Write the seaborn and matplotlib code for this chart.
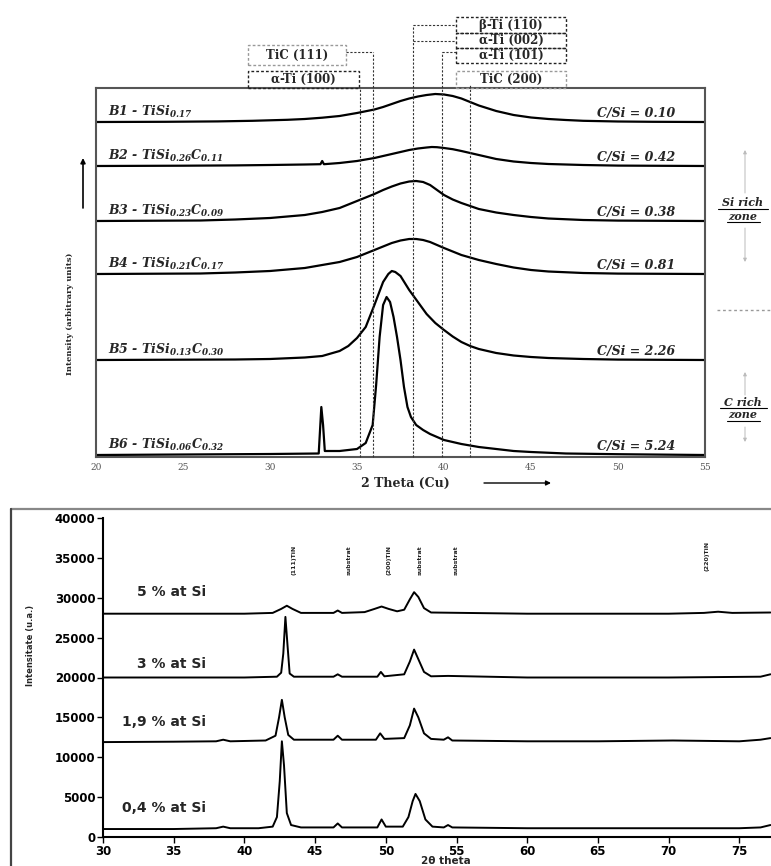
import numpy as np
import matplotlib
matplotlib.use('Agg')
import matplotlib.pyplot as plt
import seaborn as sns
from matplotlib.lines import Line2D
from matplotlib.patches import Rectangle

# ---------------- top panel: stacked XRD patterns (arbitrary units) ----------------
samples = ['B1', 'B2', 'B3', 'B4', 'B5', 'B6']
formulas = [r'TiSi$_{0.17}$', r'TiSi$_{0.26}$C$_{0.11}$', r'TiSi$_{0.23}$C$_{0.09}$',
            r'TiSi$_{0.21}$C$_{0.17}$', r'TiSi$_{0.13}$C$_{0.30}$', r'TiSi$_{0.06}$C$_{0.32}$']
c_si = ['0.10', '0.42', '0.38', '0.81', '2.26', '5.24']
top_offsets = [335, 291, 236, 183, 97, 2]

b1_theta = [20, 24, 27, 29, 31, 32, 33, 34, 35, 36, 36.5, 37, 37.5, 38, 38.5, 39, 39.5, 40, 40.5, 41, 41.5,
            42, 43, 44, 45, 46, 47, 48, 50, 52, 55]
b1_int = [0, 0.2, 0.6, 1.2, 2.2, 3, 4.3, 6, 9, 12.5, 15, 18, 21, 23.5, 25.5, 27, 28, 27.5, 26, 23.5, 20,
          16.5, 11, 7, 4.5, 3, 2, 1.2, 0.5, 0.2, 0]
b2_theta = [20, 25, 28, 30, 32, 32.9, 33.0, 33.1, 34, 35, 36, 36.5, 37, 37.5, 38, 38.5, 39, 39.3, 39.6, 40,
            40.5, 41, 41.5, 42, 43, 44, 45, 46, 48, 50, 55]
b2_int = [0, 0.3, 0.6, 1, 1.5, 1.8, 5, 1.8, 3, 5, 8, 10, 12, 14, 16, 17.5, 18.5, 19, 18.8, 18, 16.8, 15, 13,
          11, 7, 4.5, 3, 2, 1, 0.4, 0]
b3_theta = [20, 26, 28, 30, 32, 33, 34, 35, 35.5, 36, 36.5, 37, 37.5, 38, 38.4, 38.8, 39.2, 39.6, 40, 40.5,
            41, 41.5, 42, 43, 44, 45, 46, 48, 50, 55]
b3_int = [0, 0.5, 1.5, 3, 6, 9, 13, 20, 23.5, 27, 31, 34.5, 37.5, 39.5, 40, 39, 36, 31, 26, 21.5, 18, 15,
          12, 8.5, 6, 4, 2.5, 1, 0.4, 0]
b4_theta = [20, 26, 28, 30, 32, 33, 34, 35, 35.5, 36, 36.5, 37, 37.5, 38, 38.4, 38.8, 39.2, 39.6, 40, 40.5,
            41, 41.5, 42, 43, 44, 45, 46, 48, 50, 55]
b4_int = [0, 0.5, 1.5, 3, 6, 9, 12, 17, 20.5, 24, 27.5, 31, 33.5, 35, 35, 34, 32, 29, 26, 22.5, 19, 16.5,
          14, 10, 6.5, 4, 2.5, 1, 0.4, 0]
b5_theta = [20, 28, 30, 32, 33, 34, 34.5, 35, 35.5, 36, 36.5, 36.8, 37, 37.2, 37.5, 38, 38.5, 39, 39.5, 40,
            40.5, 41, 41.5, 42, 43, 44, 45, 46, 48, 50, 55]
b5_int = [0, 0.5, 1, 2.5, 4, 9, 14, 22, 33, 55, 78, 86, 89, 88, 84, 70, 58, 46, 37, 30, 23.5, 18, 14, 11,
          7, 4.5, 3, 2, 1, 0.4, 0]
b6_theta = [20, 25, 30, 32.8, 32.95, 33.05, 33.15, 34, 35, 35.5, 35.9, 36.1, 36.3, 36.5, 36.7, 36.9, 37.1,
            37.3, 37.5, 37.7, 37.9, 38.1, 38.4, 38.8, 39.2, 40, 41, 42, 43, 44, 45, 47, 50, 55]
b6_int = [0, 0.5, 1, 1.5, 48, 30, 4, 4, 6, 12, 30, 70, 118, 150, 158, 153, 138, 118, 95, 68, 48, 38, 30,
          25, 21, 15, 11, 8, 6, 4, 3, 1.5, 0.8, 0]
top_curves = [(b1_theta, b1_int), (b2_theta, b2_int), (b3_theta, b3_int),
              (b4_theta, b4_int), (b5_theta, b5_int), (b6_theta, b6_int)]

ref_theta = [35.15, 35.9, 38.2, 39.9, 41.5]   # a-Ti(100), TiC(111), b-Ti(110)/a-Ti(002), a-Ti(101), TiC(200)

# ---------------- bottom panel: TiSiN films ----------------
si_labels = ['5 % at Si', '3 % at Si', '1,9 % at Si', '0,4 % at Si']
si_label_y = [30700, 21700, 14400, 3600]

s5_theta = [30, 35, 40, 42, 42.6, 43.0, 43.4, 44, 46.3, 46.6, 46.9, 48.5, 49.2, 49.7, 50.2, 50.8, 51.3, 51.7,
            52.0, 52.3, 52.7, 53.2, 60, 65, 70, 72.5, 73.5, 74.5, 77.2]
s5_int = [28000, 28000, 28000, 28100, 28600, 29000, 28600, 28100, 28100, 28400, 28100, 28200, 28600, 28900,
          28600, 28300, 28500, 29800, 30700, 30100, 28700, 28150, 28000, 28000, 28000, 28100, 28250, 28100, 28150]
s3_theta = [30, 35, 40, 42.3, 42.6, 42.75, 42.9, 43.05, 43.2, 43.5, 46.3, 46.6, 46.9, 49.4, 49.65, 49.9, 51.3,
            51.7, 52.0, 52.3, 52.7, 53.2, 54.4, 60, 70, 76.5, 77.2]
s3_int = [20000, 20000, 20000, 20100, 20600, 23000, 27600, 24000, 20500, 20100, 20100, 20400, 20100, 20100,
          20700, 20150, 20400, 22000, 23500, 22300, 20700, 20150, 20200, 20000, 20000, 20100, 20400]
s19_theta = [30, 35, 38, 38.5, 39, 41.5, 42.2, 42.45, 42.65, 42.85, 43.1, 43.5, 46.3, 46.6, 46.9, 49.3, 49.6,
             49.9, 51.3, 51.7, 52.0, 52.3, 52.7, 53.2, 54.1, 54.4, 54.7, 60, 65, 70.3, 75, 76.5, 77.2]
s19_int = [11900, 11950, 12000, 12200, 12000, 12100, 12700, 15000, 17200, 15000, 12800, 12200, 12200, 12700,
           12200, 12200, 13000, 12300, 12400, 14000, 16100, 15000, 13000, 12300, 12200, 12500, 12100, 12000,
           12000, 12100, 12000, 12200, 12400]
s04_theta = [30, 35, 38, 38.5, 39, 41, 42, 42.3, 42.5, 42.65, 42.8, 43.0, 43.3, 44, 46.3, 46.6, 46.9, 49.4,
             49.7, 50.0, 51.2, 51.6, 51.9, 52.1, 52.4, 52.8, 53.3, 54.1, 54.4, 54.7, 60, 65, 70, 75, 76.5, 77.2]
s04_int = [1000, 1000, 1100, 1300, 1100, 1100, 1300, 2500, 7000, 12000, 9000, 3000, 1500, 1200, 1200, 1700,
           1200, 1200, 2200, 1300, 1300, 2500, 4500, 5400, 4500, 2200, 1300, 1200, 1500, 1200, 1100, 1100,
           1100, 1100, 1200, 1500]
bottom_curves = [(s5_theta, s5_int), (s3_theta, s3_int), (s19_theta, s19_int), (s04_theta, s04_int)]

peak_names = ['(111)TiN', 'substrat', '(200)TiN', 'substrat', 'substrat', '(220)TiN']
peak_pos = [43.5, 47.4, 50.2, 52.4, 55.0, 72.7]
peak_label_y = [34700, 34700, 34700, 34700, 34700, 35300]

# ---------------- styling ----------------
sns.set_style('white')
plt.rcParams['mathtext.fontset'] = 'custom'
plt.rcParams['mathtext.rm'] = 'DejaVu Serif:italic:bold'
plt.rcParams['mathtext.it'] = 'DejaVu Serif:italic:bold'
plt.rcParams['mathtext.bf'] = 'DejaVu Serif:italic:bold'
plt.rcParams['mathtext.default'] = 'rm'

W, H = 771, 866
fig = plt.figure(figsize=(W / 100, H / 100), dpi=100)


def fx(x):
   return x / W


def fy(y):
   return 1 - y / H


def fig_line(xs, ys, **kw):
   fig.add_artist(Line2D([fx(v) for v in xs], [fy(v) for v in ys], transform=fig.transFigure, **kw))


def fig_arrow(x0, y0, x1, y1, color='k', lw=1.0, ms=8):
   ax1.annotate('', xy=(fx(x1), fy(y1)), xytext=(fx(x0), fy(y0)), xycoords='figure fraction',
                textcoords='figure fraction', annotation_clip=False,
                arrowprops=dict(arrowstyle='-|>', color=color, lw=lw, mutation_scale=ms, shrinkA=0, shrinkB=0))


# ---------------- top axes ----------------
ax1 = fig.add_axes([fx(96), fy(457), fx(705) - fx(96), fy(88) - fy(457)])
ax1.set_xlim(20, 55)
ax1.set_ylim(0, 369)
for (th, it), off in zip(top_curves, top_offsets):
   sns.lineplot(x=th, y=np.array(it) + off, ax=ax1, color='black', lw=1.6, sort=False)
for s, f, c, off in zip(samples, formulas, c_si, top_offsets):
   ax1.text(20.7, off + 2, f'{s} - {f}', fontsize=9, family='DejaVu Serif', style='italic',
            weight='bold', va='bottom', ha='left')
   ax1.text(53.3, off + 2, f'C/Si = {c}', fontsize=9, family='DejaVu Serif', style='italic',
            weight='bold', va='bottom', ha='right')
ax1.set_xticks(range(20, 56, 5))
ax1.set_xticks(range(20, 56, 1), minor=True)
ax1.set_yticks([])
ax1.tick_params(axis='x', which='both', direction='in', length=3, width=0.8, colors='#555',
                labelsize=6.5, pad=4)
for lab in ax1.get_xticklabels():
   lab.set_family('DejaVu Serif')
for sp in ax1.spines.values():
   sp.set_color('#555')
   sp.set_linewidth(1.5)
ax1.set_xlabel('')
ax1.set_ylabel('')

fig.text(fx(70), fy(314), 'Intensity (arbitrary units)', rotation=90, ha='center', va='center',
         fontsize=6, family='DejaVu Serif', weight='bold')
fig.text(fx(405), fy(483), '2 Theta (Cu)', ha='center', va='center', fontsize=9,
         family='DejaVu Serif', weight='bold')
fig_arrow(484, 483, 551, 483, lw=1.0, ms=7)
fig_arrow(83, 208, 83, 158, lw=1.2, ms=7)

# reference reflections: boxes + dashed connectors
theta_px = [ax1.transData.transform((t, 0))[0] for t in ref_theta]
dash = (0, (2, 1.5))
for tp, ytop in zip(theta_px, [88, 52, 25, 52, 84]):
   fig_line([tp, tp], [457, ytop], color='#333', lw=0.8, ls=dash)
fig_line([346, theta_px[1]], [52, 52], color='#333', lw=0.8, ls=dash)
fig_line([theta_px[2], 456], [25, 25], color='#333', lw=0.8, ls=dash)
fig_line([theta_px[2], 456], [41, 41], color='#333', lw=0.8, ls=dash)
fig_line([theta_px[3], 456], [52, 52], color='#333', lw=0.8, ls=dash)

boxes = [('TiC (111)', 248, 45, 346, 65, '#999'),
         ('α-Ti (100)', 248, 71, 359, 88, '#222'),
         ('β-Ti (110)', 456, 17, 566, 33, '#222'),
         ('α-Ti (002)', 456, 33, 566, 48, '#222'),
         ('α-Ti (101)', 456, 48, 566, 63, '#222'),
         ('TiC (200)', 456, 71, 566, 88, '#999')]
for txt, x0, y0, x1, y1, col in boxes:
   fig.add_artist(Rectangle((fx(x0), fy(y1)), fx(x1) - fx(x0), fy(y0) - fy(y1), transform=fig.transFigure,
                            fill=False, edgecolor=col, lw=1.0, ls=dash))
   fig.text(fx((x0 + x1) / 2), fy((y0 + y1) / 2), txt, ha='center', va='center', fontsize=8.5,
            family='DejaVu Serif', weight='bold')

# zone annotations on the right
for words, ys, uls in [(('Si rich', 'zone'), (203, 216), ((718, 768, 209), (727, 760, 222))),
                       (('C rich', 'zone'), (402, 414), ((720, 767, 408), (727, 760, 421)))]:
   for w, y in zip(words, ys):
      fig.text(fx(743), fy(y), w, ha='center', va='center', fontsize=8, family='DejaVu Serif',
               style='italic', weight='bold')
   for a, b, y in uls:
      fig_line([a, b], [y, y], color='k', lw=0.8)
fig_arrow(745, 193, 745, 150, color='#bbb', lw=0.7, ms=5)
fig_arrow(745, 228, 745, 262, color='#bbb', lw=0.7, ms=5)
fig_arrow(745, 395, 745, 372, color='#bbb', lw=0.7, ms=5)
fig_arrow(745, 427, 745, 442, color='#bbb', lw=0.7, ms=5)
fig_line([717, 771], [310, 310], color='#999', lw=1.0, ls=(0, (2, 2)))

# ---------------- bottom axes ----------------
fig_line([11, 771], [509, 509], color='#888', lw=1.6)
fig_line([11, 11], [509, 866], color='#444', lw=1.6)

ax2 = fig.add_axes([fx(103), fy(837), 1 - fx(103), fy(518) - fy(837)])
ax2.set_xlim(30, 77.24)
ax2.set_ylim(0, 40000)
for th, it in bottom_curves:
   sns.lineplot(x=th, y=it, ax=ax2, color='black', lw=1.4, sort=False)
for lab, y in zip(si_labels, si_label_y):
   ax2.text(37.3, y, lab, ha='right', va='center', fontsize=10, family='DejaVu Sans', weight='bold')
for name, x, y in zip(peak_names, peak_pos, peak_label_y):
   ax2.text(x, y, name, rotation=90, ha='center', va='center', fontsize=4.5, family='DejaVu Sans',
            weight='bold', color='#222')
ax2.set_xticks(range(30, 80, 5))
ax2.set_yticks(range(0, 40001, 5000))
ax2.tick_params(axis='both', which='major', direction='out', length=4, width=1, colors='black',
                labelsize=8.5, pad=1.5, bottom=True, left=True)
for lab in ax2.get_xticklabels() + ax2.get_yticklabels():
   lab.set_family('DejaVu Sans')
   lab.set_weight('bold')
sns.despine(ax=ax2, top=True, right=True)
ax2.spines['left'].set_linewidth(1.5)
ax2.spines['bottom'].set_linewidth(1.5)
ax2.spines['left'].set_color('black')
ax2.spines['bottom'].set_color('black')
ax2.set_xlabel('')
ax2.set_ylabel('')
fig.text(fx(446), fy(861), '2θ theta', ha='center', va='center', fontsize=7.5, family='DejaVu Sans',
         weight='bold')
fig.text(fx(30), fy(645), 'Intensitate (u.a.)', rotation=90, ha='center', va='center', fontsize=6,
         family='DejaVu Sans', weight='bold')

fig.savefig('out.png', dpi=100)
